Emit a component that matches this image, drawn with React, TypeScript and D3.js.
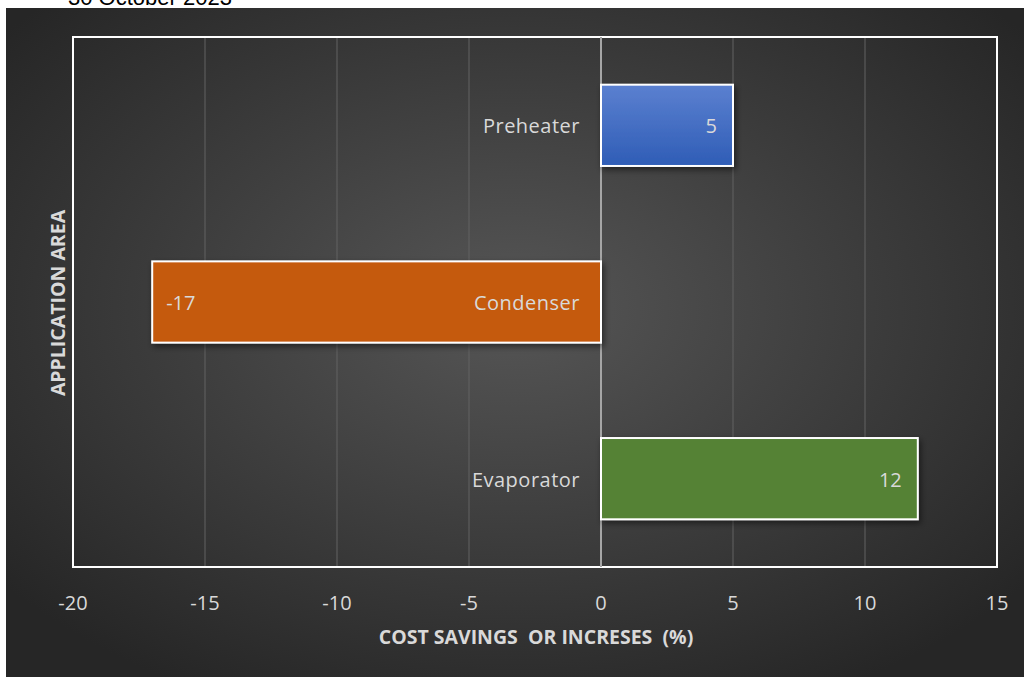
import React from "react";
import * as d3 from "d3";

const categories = ["Preheater", "Condenser", "Evaporator"];
const values = [5, -17, 12];
const barColors = ["#4472c4", "#c55a11", "#548235"];
const xTicks = [-20, -15, -10, -5, 0, 5, 10, 15];
const xTitle = "COST SAVINGS  OR INCRESES  (%)";
const yTitle = "APPLICATION AREA";
const dateText = "30 October 2023";

export default function App() {
  const W = 1024, H = 677;
  const left = 73, right = 997, top = 37, bottom = 567;
  const x = d3.scaleLinear().domain([-20, 15]).range([left, right]);
  const y = d3.scaleBand().domain(categories).range([top, bottom]).paddingInner(0.54).paddingOuter(0.27);
  const font = "Open Sans, Noto Sans, sans-serif";
  const txt = "#d9d9d9";
  return (
    <svg width={W} height={H} style={{ position: "absolute", left: 0, top: 0 }} xmlns="http://www.w3.org/2000/svg">
      <defs>
        <radialGradient id="bg" cx="0.5" cy="0.45" r="0.65">
          <stop offset="0" stopColor="#565656" />
          <stop offset="1" stopColor="#262626" />
        </radialGradient>
        <linearGradient id="blue" x1="0" y1="0" x2="0" y2="1">
          <stop offset="0" stopColor="#5b80d0" />
          <stop offset="1" stopColor="#2f5db6" />
        </linearGradient>
        <filter id="sh" x="-10%" y="-20%" width="130%" height="150%">
          <feDropShadow dx="2" dy="3" stdDeviation="3" floodColor="#000" floodOpacity="0.5" />
        </filter>
      </defs>
      <rect x={0} y={0} width={W} height={H} fill="#ffffff" />
      <text x={68} y={5} fontFamily="Liberation Sans, Arial, sans-serif" fontSize={22} fill="#000">{dateText}</text>
      <rect x={6} y={8} width={W - 6} height={H - 8} fill="url(#bg)" />
      {xTicks.filter(t => t !== 0 && t !== -20 && t !== 15).map(t => (
        <line key={t} x1={x(t)} x2={x(t)} y1={top} y2={bottom} stroke="#626262" strokeWidth={1} />
      ))}
      <rect x={left} y={top} width={right - left} height={bottom - top} fill="none" stroke="#ffffff" strokeWidth={2} />
      <line x1={x(0)} x2={x(0)} y1={top} y2={bottom} stroke="#a6a6a6" strokeWidth={2} />
      {categories.map((c, i) => {
        const v = values[i];
        const x0 = x(Math.min(0, v)), x1 = x(Math.max(0, v));
        const fill = i === 0 ? "url(#blue)" : barColors[i];
        return (
          <rect key={c} x={x0} y={y(c)!} width={x1 - x0} height={y.bandwidth()} fill={fill} stroke="#ffffff" strokeWidth={2} filter="url(#sh)" />
        );
      })}
      {categories.map((c, i) => (
        <text key={c} x={x(0) - 21} y={y(c)! + y.bandwidth() / 2 + 1} dy="0.35em" textAnchor="end" fontFamily={font} fontSize={20} letterSpacing={0.5} fill={txt}>{c}</text>
      ))}
      {categories.map((c, i) => {
        const v = values[i];
        return (
          <text key={c} x={v >= 0 ? x(v) - 16 : x(v) + 14} y={y(c)! + y.bandwidth() / 2 + 1} dy="0.35em" textAnchor={v >= 0 ? "end" : "start"} fontFamily={font} fontSize={20} fill={txt}>{v}</text>
        );
      })}
      {xTicks.map(t => (
        <text key={t} x={x(t)} y={603} dy="0.35em" textAnchor="middle" fontFamily={font} fontSize={20} fill={txt}>{t}</text>
      ))}
      <text x={536} y={637} dy="0.35em" textAnchor="middle" fontFamily={font} fontSize={19.5} fontWeight="bold" fill={txt} style={{ whiteSpace: "pre" }}>{xTitle}</text>
      <text transform={`translate(58, 303) rotate(-90)`} dy="0.35em" textAnchor="middle" fontFamily={font} fontSize={19.5} fontWeight="bold" fill={txt}>{yTitle}</text>
    </svg>
  );
}
